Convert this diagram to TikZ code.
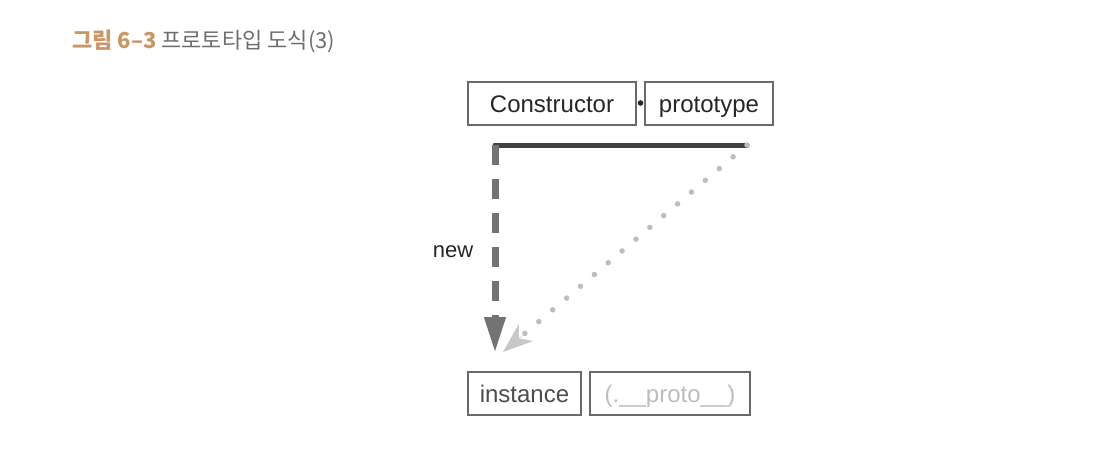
\documentclass[tikz,border=0pt]{standalone}
\usepackage{fontspec}
\setmainfont{Liberation Sans}
\newfontfamily\kr{Noto Sans CJK KR}
\usetikzlibrary{arrows.meta,calc}
\definecolor{titleor}{HTML}{C99766}
\definecolor{titlegr}{HTML}{6E6E6E}
\definecolor{boxline}{HTML}{6A6A6A}
\definecolor{lightt}{HTML}{BDBDBD}
\tikzset{
  box/.style={draw=boxline, line width=1.2pt, minimum height=43pt, inner sep=0pt,
    text height=20pt, text depth=2pt, font=\fontsize{24}{26}\selectfont, text=black!85},
}
\begin{document}
\begin{tikzpicture}[x=1pt,y=-1pt]
\useasboundingbox (0,0) rectangle (1109,469);
\node[anchor=west, font=\kr\fontsize{22}{24}\selectfont, inner sep=0pt] (title) at (72,41)
  {\textcolor{titleor}{\textbf{그림 6–3}} \textcolor{titlegr}{프로토타입 도식(3)}};
\node[box, minimum width=168pt] (ctor) at (552,103.5) {Constructor};
\node[box, minimum width=128pt] (proto) at (709,103.5) {prototype};
\fill[black!85] (640.5,103) circle (2.8pt);
\node[box, minimum width=113pt, text=black!70] (inst) at (524.5,393.5) {instance};
\node[box, minimum width=160pt, text=lightt] (pp) at (670,393.5) {(.\_\_proto\_\_)};
\coordinate (L) at (495,145);
\coordinate (R) at (747,145);
\coordinate (T) at (495,353);
\coordinate (D) at (503,352);
\draw[line width=5pt, draw=black!75, line cap=round] (L) -- (R);
\draw[line width=7pt, draw=black!55, dash pattern=on 20pt off 14pt, -{Triangle[length=36pt, width=20pt]}] (495,145) -- (T);
\draw[line width=5.5pt, draw=lightt, line cap=round, dash pattern=on 0pt off 18.2pt, shorten >=24pt] (R) -- (D);
\draw[draw=black!22, line width=0.4pt, -{Stealth[length=30pt, width=22pt, inset=9pt, fill=black!22]}] ($(D)!30pt!(R)$) -- (D);
\node[font=\fontsize{22}{24}\selectfont, text=black!85] (new) at (453,252) {new};
\end{tikzpicture}
\end{document}
